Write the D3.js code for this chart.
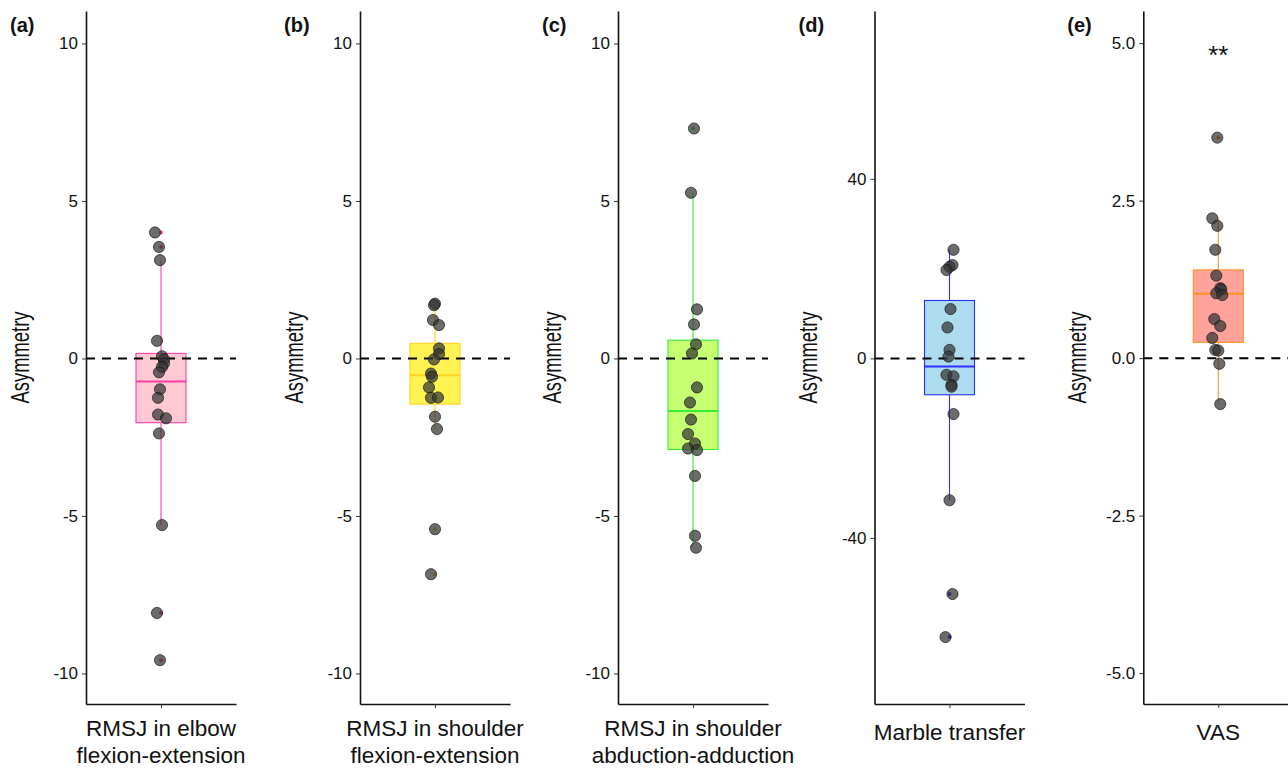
<!DOCTYPE html>
<html>
<head>
<meta charset="utf-8">
<script src="https://cdn.jsdelivr.net/npm/d3@7"></script>
<style>
    body { margin: 0; background: white; }
    svg { display: block; font-family: "Liberation Sans", Arial, sans-serif; }
</style>
</head>
<body>
<svg width="1288" height="768"></svg>
<script>
// Panel labels and category names
const panelLabels = ["(a)", "(b)", "(c)", "(d)", "(e)"]
const categoryLines = [
    ["RMSJ in elbow", "flexion-extension"],
    ["RMSJ in shoulder", "flexion-extension"],
    ["RMSJ in shoulder", "abduction-adduction"],
    ["Marble transfer"],
    ["VAS"]
]

// Asymmetry values per panel
const valuesA = [4.00, 3.54, 3.12, 0.56, 0.07, -0.03, -0.16, -0.27, -0.44, -0.98, -1.25, -1.78, -1.90, -2.38, -5.29, -8.08, -9.58]
const valuesB = [1.74, 1.69, 1.22, 1.06, 0.32, 0.14, -0.03, -0.48, -0.58, -0.92, -1.25, -1.24, -1.85, -2.24, -5.42, -6.85]
const valuesC = [7.30, 5.26, 1.56, 1.08, 0.45, 0.16, -0.92, -1.40, -1.94, -2.40, -2.70, -2.86, -2.91, -3.73, -5.63, -6.01]
const valuesD = [24.2, 20.8, 20.4, 19.7, 11.0, 6.9, 1.9, 0.4, -3.65, -4.0, -5.9, -6.3, -12.4, -31.6, -52.5, -62.1]
const valuesE = [3.50, 2.22, 2.10, 1.72, 1.31, 1.11, 1.09, 1.03, 1.00, 0.62, 0.51, 0.32, 0.13, 0.12, -0.09, -0.73]

// Horizontal jitter of each point, in category units
const jitterA = [-0.048, -0.016, -0.008, -0.032, 0.008, 0.024, 0.024, 0.008, -0.016, -0.008, -0.024, -0.024, 0.04, -0.016, 0.008, -0.032, -0.008]
const jitterB = [0, -0.008, -0.016, 0.032, 0.032, 0.032, -0.008, -0.032, -0.024, -0.048, -0.032, 0.024, 0, 0.016, 0, -0.032]
const jitterC = [0.008, -0.016, 0.032, 0.008, 0.024, -0.008, 0.032, -0.024, -0.016, -0.04, 0.016, -0.04, 0.032, 0.016, 0.016, 0.024]
const jitterD = [0.032, 0.024, 0, -0.024, 0.008, -0.016, 0, -0.008, -0.024, 0.032, 0.016, 0.016, 0.032, 0, 0.024, -0.032]
const jitterE = [-0.008, -0.048, -0.008, -0.024, -0.016, 0.016, 0.024, -0.016, 0.032, -0.032, 0.016, -0.048, -0.024, 0, 0.008, 0.016]

// Box statistics per panel
const boxQ1 = [-2.04, -1.45, -2.89, -8.1, 0.25]
const boxMedian = [-0.73, -0.53, -1.67, -1.8, 1.02]
const boxQ3 = [0.16, 0.48, 0.58, 12.9, 1.40]
const whiskerLow = [-5.29, -2.24, -6.01, -31.6, -0.73]
const whiskerHigh = [3.12, 1.74, 5.26, 24.2, 2.22]

// Axis domains and ticks
const yDomains = [[-10.97, 11.03], [-10.97, 11.03], [-10.97, 11.03], [-77, 77.4], [-5.49, 5.51]]
const yTicks = [[-10, -5, 0, 5, 10], [-10, -5, 0, 5, 10], [-10, -5, 0, 5, 10], [-40, 0, 40], [-5, -2.5, 0, 2.5, 5]]
const yTickFormats = ["d", "d", "d", "d", ".1f"]
const significance = ["", "", "", "", "**"]

// Colours
const boxFills = ["#FFC9D4", "#FFF352", "#C6FF72", "#ADDCEF", "#FFA39C"]
const boxStrokes = ["#FF3EA5", "#FFD21F", "#33EE33", "#2E2EFF", "#FF9020"]

const allValues = [valuesA, valuesB, valuesC, valuesD, valuesE]
const allJitter = [jitterA, jitterB, jitterC, jitterD, jitterE]

// Layout
const panelLeft = [86, 360, 618, 874.5, 1143.3]
const panelWidth = 150
const plotTop = 11
const plotBottom = 704
const boxWidth = 0.4

const svg = d3.select("svg")

panelLabels.forEach(function(label, i) {
    const x0 = panelLeft[i]
    const x = d3.scaleLinear().domain([0.4, 1.6]).range([x0, x0 + panelWidth])
    const y = d3.scaleLinear().domain(yDomains[i]).range([plotBottom, plotTop])
    const g = svg.append("g")

    // Box: whiskers, rectangle, median
    g.append("line")
        .attr("x1", x(1)).attr("x2", x(1))
        .attr("y1", y(boxQ3[i])).attr("y2", y(whiskerHigh[i]))
        .attr("stroke", boxStrokes[i]).attr("stroke-width", 1.1)
    g.append("line")
        .attr("x1", x(1)).attr("x2", x(1))
        .attr("y1", y(boxQ1[i])).attr("y2", y(whiskerLow[i]))
        .attr("stroke", boxStrokes[i]).attr("stroke-width", 1.1)
    g.append("rect")
        .attr("x", x(1 - boxWidth / 2))
        .attr("width", x(1 + boxWidth / 2) - x(1 - boxWidth / 2))
        .attr("y", y(boxQ3[i]))
        .attr("height", y(boxQ1[i]) - y(boxQ3[i]))
        .attr("fill", boxFills[i])
        .attr("stroke", boxStrokes[i]).attr("stroke-width", 1.1)
    g.append("line")
        .attr("x1", x(1 - boxWidth / 2)).attr("x2", x(1 + boxWidth / 2))
        .attr("y1", y(boxMedian[i])).attr("y2", y(boxMedian[i]))
        .attr("stroke", boxStrokes[i]).attr("stroke-width", 2)

    // Reference line at zero
    g.append("line")
        .attr("x1", x0).attr("x2", x0 + panelWidth)
        .attr("y1", y(0)).attr("y2", y(0))
        .attr("stroke", "black").attr("stroke-width", 2)
        .attr("stroke-dasharray", "9,7")

    // Outliers drawn by the boxplot, at the centre
    const outliers = allValues[i].filter(v => v > whiskerHigh[i] + 1e-9 || v < whiskerLow[i] - 1e-9)
    g.selectAll(".outlier")
        .data(outliers)
        .enter()
        .append("circle")
        .attr("cx", x(1))
        .attr("cy", d => y(d))
        .attr("r", 2)
        .attr("fill", boxStrokes[i])

    // Jittered points
    g.selectAll(".pt")
        .data(allValues[i].map((v, k) => [allJitter[i][k], v]))
        .enter()
        .append("circle")
        .attr("cx", d => x(1 + d[0]))
        .attr("cy", d => y(d[1]))
        .attr("r", 5.6)
        .attr("fill", "#333")
        .attr("fill-opacity", 0.72)
        .attr("stroke", "#111")
        .attr("stroke-opacity", 0.8)
        .attr("stroke-width", 0.8)

    // Y axis (plain hyphen for negative numbers, as in the original)
    const fmt = d3.format(yTickFormats[i])
    const yAxis = g.append("g")
        .attr("transform", "translate(" + x0 + ",0)")
        .call(d3.axisLeft(y)
            .tickValues(yTicks[i])
            .tickFormat(d => fmt(d).replace("\u2212", "-"))
            .tickSize(4)
            .tickSizeOuter(0)
            .tickPadding(4))
    yAxis.select(".domain").attr("stroke", "#111").attr("stroke-width", 1.6)
    yAxis.selectAll(".tick line").attr("stroke", "#333")
    yAxis.selectAll(".tick text")
        .attr("font-size", 17)
        .attr("fill", "#111")
        .attr("font-family", "Liberation Sans, Arial, sans-serif")

    // X axis
    const xAxis = g.append("g")
        .attr("transform", "translate(0," + plotBottom + ")")
        .call(d3.axisBottom(x).tickValues([1]).tickFormat("").tickSize(4).tickSizeOuter(0))
    xAxis.select(".domain").attr("stroke", "#111").attr("stroke-width", 1.6)
    xAxis.selectAll(".tick line").attr("stroke", "#333")

    // Category label
    const lines = categoryLines[i]
    const xLabel = g.append("text")
        .attr("text-anchor", "middle")
        .attr("font-size", 22.5)
        .attr("fill", "#111")
    lines.forEach(function(line, k) {
        xLabel.append("tspan")
            .attr("x", x(1))
            .attr("y", lines.length == 1 ? 740 : 736 + k * 27)
            .text(line)
    })

    // Y axis title
    g.append("text")
        .attr("transform", "translate(" + (x0 - 66) + "," + ((plotTop + plotBottom) / 2) + ") rotate(-90)")
        .attr("text-anchor", "middle")
        .attr("dy", "0.35em")
        .attr("font-size", 25)
        .attr("textLength", 92)
        .attr("lengthAdjust", "spacingAndGlyphs")
        .attr("fill", "#111")
        .text("Asymmetry")

    // Panel label
    g.append("text")
        .attr("x", x0 - 76)
        .attr("y", 32)
        .attr("font-size", 20)
        .attr("font-weight", "bold")
        .attr("fill", "#111")
        .text(label)

    // Significance mark
    if (significance[i]) {
        g.append("text")
            .attr("x", x(1))
            .attr("y", 64)
            .attr("text-anchor", "middle")
            .attr("font-size", 26)
            .attr("fill", "#111")
            .text(significance[i])
    }
})
</script>
</body>
</html>
